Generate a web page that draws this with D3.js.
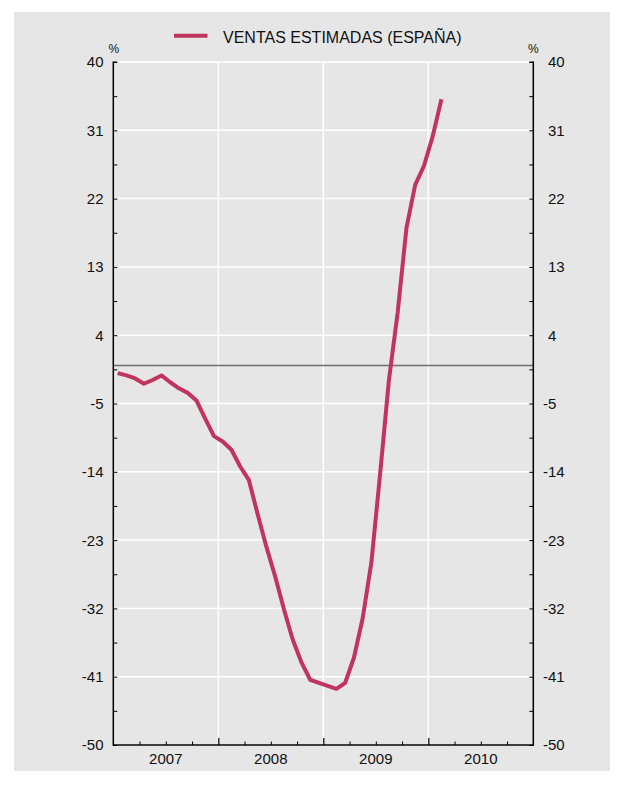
<!DOCTYPE html>
<html>
<head>
<meta charset="utf-8">
<script src="https://cdn.jsdelivr.net/npm/d3@7"></script>
<style>
  html, body { margin: 0; padding: 0; background: #ffffff; }
  svg { display: block; font-family: "Liberation Sans", Arial, sans-serif; }
</style>
</head>
<body>
<svg id="chart" width="624" height="799"></svg>
<script>
// ---- data ----
const seriesName = "VENTAS ESTIMADAS (ESPAÑA)";
const years = ["2007", "2008", "2009", "2010"];
const yTickValues = [40, 31, 22, 13, 4, -5, -14, -23, -32, -41, -50];
// monthly values, Jan 2007 .. Feb 2010
const ventas = [
  -1.0, -1.3, -1.7, -2.4, -1.9, -1.3, -2.2, -3.0, -3.6, -4.6, -7.0, -9.3,
  -10.0, -11.1, -13.3, -15.1, -19.6, -23.9, -27.8, -32.1, -36.1, -39.1, -41.4, -41.8,
  -42.2, -42.6, -41.8, -38.5, -33.3, -25.9, -14.2, -1.9, 7.0, 18.1, 23.8, 26.3,
  30.2, 35.1
];

// ---- layout ----
const svg = d3.select("#chart");
const L = 113.3, R = 533.3, T = 62, B = 745;
const bg = "#e6e6e6";
const lineColor = "#c0345f";
const textColor = "#111111";

svg.append("rect").attr("x", 14).attr("y", 12).attr("width", 596).attr("height", 759)
  .attr("fill", bg);

const x = d3.scaleLinear().domain([0, years.length * 12]).range([L, R]);
const y = d3.scaleLinear().domain([-50, 40]).range([B, T]);

const minorTicks = d3.range(-50, 40.01, 4.5);

// gridlines (horizontal)
svg.append("g").selectAll("line").data(yTickValues).join("line")
  .attr("x1", L).attr("x2", R)
  .attr("y1", d => y(d)).attr("y2", d => y(d))
  .attr("stroke", "#ffffff").attr("stroke-width", 1.5);

// gridlines (vertical, year boundaries)
svg.append("g").selectAll("line").data(d3.range(1, years.length)).join("line")
  .attr("x1", d => x(d * 12)).attr("x2", d => x(d * 12))
  .attr("y1", T).attr("y2", B)
  .attr("stroke", "#ffffff").attr("stroke-width", 1.5);

// zero line
svg.append("line").attr("x1", L).attr("x2", R).attr("y1", y(0)).attr("y2", y(0))
  .attr("stroke", "#6e6e6e").attr("stroke-width", 1.6);

// left axis
const leftAxis = d3.axisRight(y).tickValues(minorTicks).tickSize(4).tickFormat("");
const gl = svg.append("g").attr("transform", `translate(${L},0)`).call(leftAxis);
gl.select(".domain").remove();
gl.selectAll(".tick line").attr("stroke", "#000").attr("stroke-width", 1);

// right axis
const rightAxis = d3.axisLeft(y).tickValues(minorTicks).tickSize(4).tickFormat("");
const gr = svg.append("g").attr("transform", `translate(${R},0)`).call(rightAxis);
gr.select(".domain").remove();
gr.selectAll(".tick line").attr("stroke", "#000").attr("stroke-width", 1);

// bottom axis: quarter ticks + year ticks
const quarterTicks = d3.range(0, years.length * 12 + 1, 3).filter(d => d % 12 !== 0);
const bq = d3.axisTop(x).tickValues(quarterTicks).tickSize(3.5).tickFormat("");
const gbq = svg.append("g").attr("transform", `translate(0,${B})`).call(bq);
gbq.select(".domain").remove();
gbq.selectAll(".tick line").attr("stroke", "#000").attr("stroke-width", 1);
const by = d3.axisTop(x).tickValues(d3.range(1, years.length).map(d => d * 12)).tickSize(7).tickFormat("");
const gby = svg.append("g").attr("transform", `translate(0,${B})`).call(by);
gby.select(".domain").remove();
gby.selectAll(".tick line").attr("stroke", "#000").attr("stroke-width", 1.2);

// axis frame lines
svg.append("line").attr("x1", L).attr("x2", L).attr("y1", T - 0.5).attr("y2", B + 0.8)
  .attr("stroke", "#000").attr("stroke-width", 1.5);
svg.append("line").attr("x1", R).attr("x2", R).attr("y1", T - 0.5).attr("y2", B + 0.8)
  .attr("stroke", "#000").attr("stroke-width", 1.5);
svg.append("line").attr("x1", L).attr("x2", R).attr("y1", B).attr("y2", B)
  .attr("stroke", "#000").attr("stroke-width", 1.6);
svg.append("line").attr("x1", L).attr("x2", L + 4).attr("y1", T).attr("y2", T)
  .attr("stroke", "#000").attr("stroke-width", 1);
svg.append("line").attr("x1", R - 4).attr("x2", R).attr("y1", T).attr("y2", T)
  .attr("stroke", "#000").attr("stroke-width", 1);

// y labels left
svg.append("g").selectAll("text").data(yTickValues).join("text")
  .attr("x", 103.5).attr("y", d => y(d)).attr("dy", "0.36em")
  .attr("text-anchor", "end").attr("font-size", 15).attr("fill", textColor)
  .text(d => d);
// y labels right (minus hangs left of digits)
svg.append("g").selectAll("text").data(yTickValues).join("text")
  .attr("x", d => d < 0 ? 548 - 5 : 548).attr("y", d => y(d)).attr("dy", "0.36em")
  .attr("text-anchor", "start").attr("font-size", 15).attr("fill", textColor)
  .text(d => d);

// % labels
svg.append("text").attr("x", L + 0.5).attr("y", 53).attr("text-anchor", "middle")
  .attr("font-size", 12).attr("fill", textColor).text("%");
svg.append("text").attr("x", R).attr("y", 53).attr("text-anchor", "middle")
  .attr("font-size", 12).attr("fill", textColor).text("%");

// year labels
svg.append("g").selectAll("text").data(years).join("text")
  .attr("x", (d, i) => x(i * 12 + 6)).attr("y", 764)
  .attr("text-anchor", "middle").attr("font-size", 15).attr("fill", textColor)
  .text(d => d);

// series line
const line = d3.line().x((d, i) => x(i + 0.5)).y(d => y(d));
svg.append("path").datum(ventas).attr("d", line)
  .attr("fill", "none").attr("stroke", lineColor).attr("stroke-width", 4)
  .attr("stroke-linejoin", "round");

// legend
svg.append("line").attr("x1", 174).attr("x2", 207.5).attr("y1", 35.7).attr("y2", 35.7)
  .attr("stroke", lineColor).attr("stroke-width", 4);
svg.append("text").attr("x", 223).attr("y", 42.5).attr("font-size", 16)
  .attr("fill", textColor).text(seriesName);
</script>
</body>
</html>
